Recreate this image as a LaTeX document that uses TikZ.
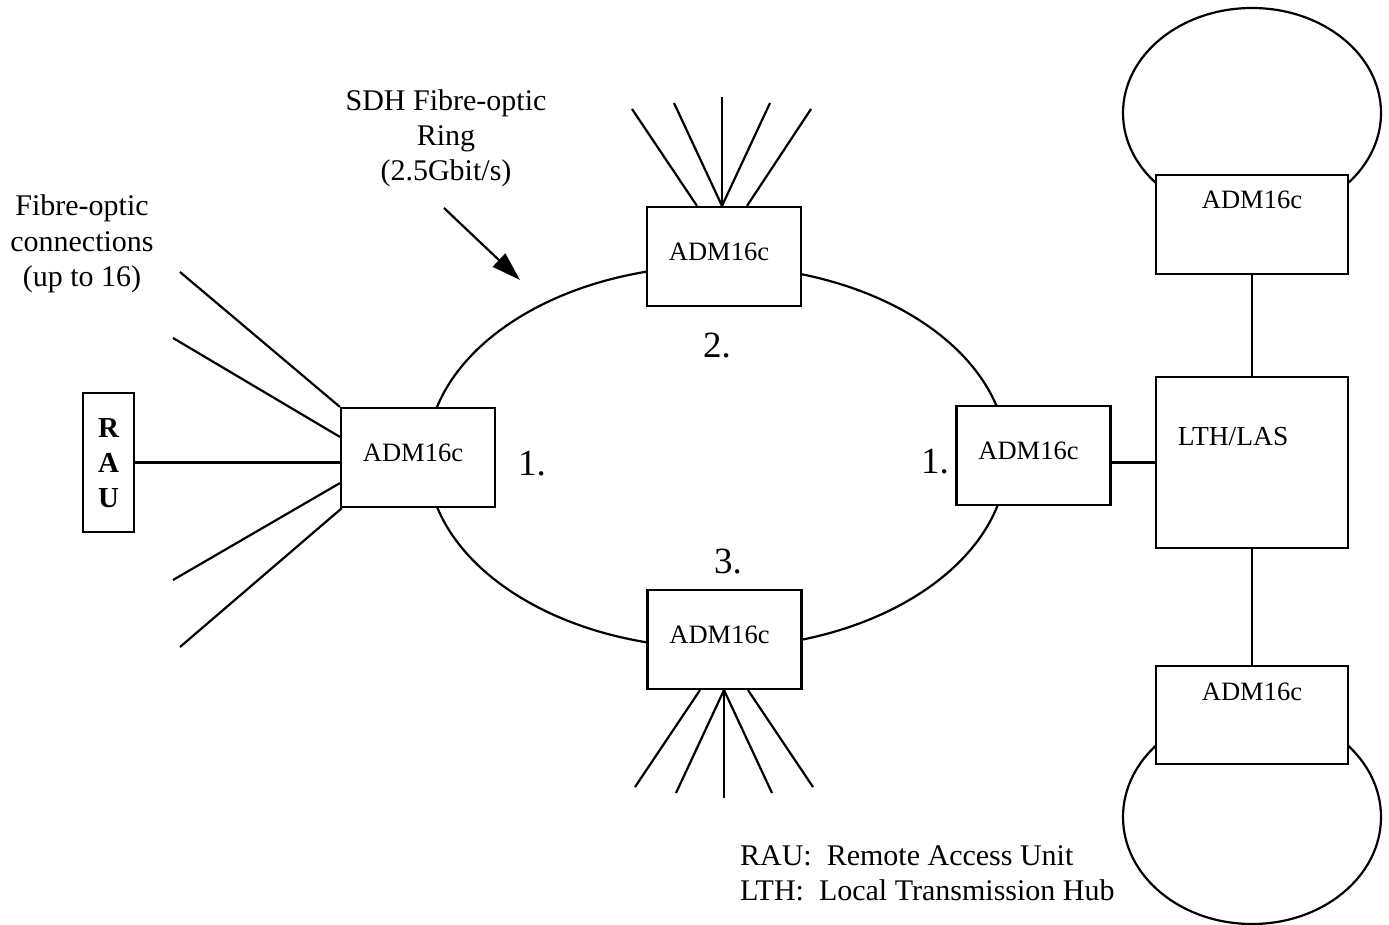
\documentclass[tikz,border=0pt]{standalone}
\usepackage{fontspec}
\setmainfont{Liberation Serif}
\usetikzlibrary{arrows.meta,shapes.geometric}
\begin{document}
\begin{tikzpicture}[x=1pt,y=-1pt,line width=2.2pt,
  unitbox/.style={draw,fill=white,rectangle,inner sep=0pt},
  admbox/.style={unitbox,minimum width=154pt,minimum height=99pt},
  wide/.style={unitbox,minimum width=192pt,minimum height=99pt},
  loop/.style={draw,ellipse,inner sep=0pt},
  boxtext/.style={inner sep=0pt,font=\fontsize{26.5}{30}\selectfont},
  bigtext/.style={inner sep=0pt,font=\fontsize{30}{35.5}\selectfont,align=center},
  numtext/.style={inner sep=0pt,font=\fontsize{37}{40}\selectfont},
  fan/.style={line width=2.2pt}]
\useasboundingbox (0,0) rectangle (1389,925);

% rings
\node[loop,minimum width=580pt,minimum height=382pt] (ring) at (717,457) {};
\node[loop,minimum width=258pt,minimum height=210pt] (loopT) at (1252,113) {};
\node[loop,minimum width=258pt,minimum height=214pt] (loopB) at (1252,817) {};

% equipment
\node[unitbox,minimum width=51pt,minimum height=139pt] (rau) at (108.5,462.5) {};
\node[inner sep=0pt,align=center,font=\fontsize{29}{35}\selectfont\bfseries] (raut) at (108.5,463) {R\\A\\U};
\node[admbox] (a1) at (418,457.5) {};
\node[admbox] (a2) at (724,256.5) {};
\node[admbox] (a3) at (724.5,639.5) {};
\node[admbox] (a4) at (1033.5,455.5) {};
\node[wide] (a5) at (1252,224.5) {};
\node[wide,minimum height=98pt] (a6) at (1252,715) {};
\node[unitbox,minimum width=192pt,minimum height=171pt] (lth) at (1252,462.5) {};

\node[boxtext] (a1t) at ([shift={(-5,-5)}]a1.center) {ADM16c};
\node[boxtext] (a2t) at ([shift={(-5,-5)}]a2.center) {ADM16c};
\node[boxtext] (a3t) at ([shift={(-5,-5)}]a3.center) {ADM16c};
\node[boxtext] (a4t) at ([shift={(-5,-5)}]a4.center) {ADM16c};
\node[boxtext] (a5t) at ([shift={(0,-24.5)}]a5.center) {ADM16c};
\node[boxtext] (a6t) at ([shift={(0,-23)}]a6.center) {ADM16c};
\node[boxtext,font=\fontsize{27.5}{30}\selectfont] (ltht) at ([shift={(-19,-25.5)}]lth.center) {LTH/LAS};

% links between units
\draw (rau.east) -- (rau.east -| a1.west);
\draw (lth.west) -- (lth.west -| a4.east);
\draw (a5.south) -- (lth.north);
\draw (lth.south) -- (a6.north);

% fibre fan at the left unit
\coordinate (l1) at (180,272);
\coordinate (l2) at (173,338);
\coordinate (l3) at (173,580);
\coordinate (l4) at (180,647);
\draw[fan] (l1) -- (a1.north west);
\draw[fan] (l2) -- ([yshift=-30pt]a1.north west);
\draw[fan] (l3) -- ([yshift=25pt]a1.south west);
\draw[fan] (l4) -- ([xshift=2pt]a1.south west);

% fibre fan above the top unit
\coordinate (t1) at (632,109);
\coordinate (t2) at (674,103);
\coordinate (t3) at (722,97);
\coordinate (t4) at (770,103);
\coordinate (t5) at (811,109);
\draw[fan] (t1) -- ([xshift=-27pt]a2.north);
\draw[fan] (t2) -- ([xshift=-2pt]a2.north);
\draw[fan] (t3) -- ([xshift=-2pt]a2.north);
\draw[fan] (t4) -- ([xshift=-2pt]a2.north);
\draw[fan] (t5) -- ([xshift=23pt]a2.north);

% fibre fan below the bottom unit
\coordinate (b1) at (635,787);
\coordinate (b2) at (676,793);
\coordinate (b3) at (724,798);
\coordinate (b4) at (772,793);
\coordinate (b5) at (813,787);
\draw[fan] (b1) -- ([xshift=-24.5pt]a3.south);
\draw[fan] (b2) -- ([xshift=-0.5pt]a3.south);
\draw[fan] (b3) -- ([xshift=-0.5pt]a3.south);
\draw[fan] (b4) -- ([xshift=-0.5pt]a3.south);
\draw[fan] (b5) -- ([xshift=23.5pt]a3.south);

% ring pointer
\coordinate (ps) at (444,208);
\coordinate (pe) at (520,280);
\draw[-{Triangle[length=29pt,width=18pt]}] (ps) -- (pe);

% labels
\node[bigtext] (fibre) at (82,244) {Fibre-optic\\connections\\(up to 16)};
\node[bigtext,font=\fontsize{30}{35}\selectfont] (sdh) at (446,138) {SDH Fibre-optic\\Ring\\(2.5Gbit/s)};
\node[numtext] (n1l) at (532,464) {1.};
\node[numtext] (n1r) at (935,462) {1.};
\node[numtext] (n2) at (717,346) {2.};
\node[numtext] (n3) at (728,562) {3.};
\node[inner sep=0pt,anchor=base west,font=\fontsize{30}{35}\selectfont] (leg1) at (739,865) {RAU:\ \ Remote Access Unit};
\node[inner sep=0pt,anchor=base west,font=\fontsize{30}{35}\selectfont] (leg2) at (739,900) {LTH:\ \ Local Transmission Hub};
\end{tikzpicture}
\end{document}
